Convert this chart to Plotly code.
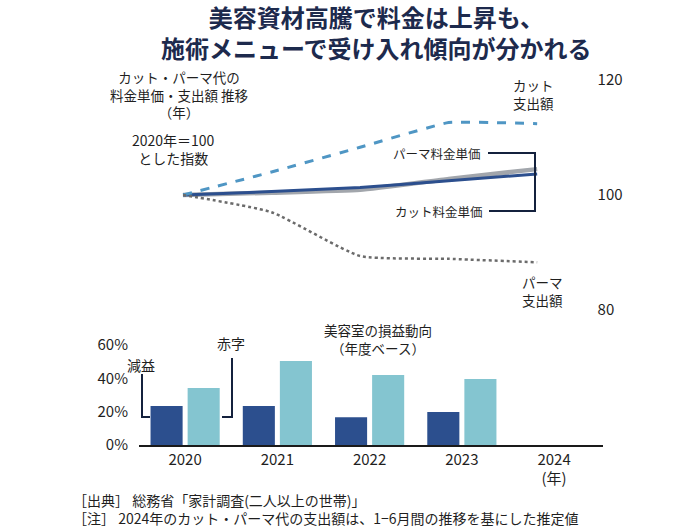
import plotly.graph_objects as go

# ---------------- data ----------------
years = [2020, 2021, 2022, 2023, 2024]
cut_spend = [100, 104.0, 108.3, 112.6, 112.4]      # カット支出額 (dashed)
perm_spend = [100, 97.0, 89.4, 88.9, 88.3]         # パーマ支出額 (dotted)
cut_price = [100, 100.6, 101.3, 102.5, 103.65]     # カット料金単価
perm_price = [100, 100.4, 100.9, 102.8, 104.5]     # パーマ料金単価

bar_years = [2020, 2021, 2022, 2023]
decline = [23.4, 23.4, 16.6, 19.8]                 # 減益
deficit = [34.2, 50.4, 42.0, 39.6]                 # 赤字

top_ticks = [80, 100, 120]
bar_ticks = [0, 20, 40, 60]
bar_ticktext = ["0%", "20%", "40%", "60%"]
x_ticktext = ["2020", "2021", "2022", "2023", "2024<br>(年)"]

# ---------------- style ----------------
W, H = 700, 530
FONT = "Noto Sans CJK JP"
TXT = "#1f1f1f"
NAVY = "#2c4f8e"
LIGHT = "#84c5d0"
DASH = "#4f96c4"
GRAY = "#a2a6ac"
DOT = "#6b6b6b"
BRK = "#14213d"


def px(x):
    return x / W


def py(y):
    return 1 - y / H


fig = go.Figure()

# top chart lines
fig.add_trace(go.Scatter(x=years, y=perm_price, mode="lines", xaxis="x", yaxis="y",
                         line=dict(color=GRAY, width=4.5, shape="spline", smoothing=0.4),
                         hoverinfo="skip"))
fig.add_trace(go.Scatter(x=years, y=cut_price, mode="lines", xaxis="x", yaxis="y",
                         line=dict(color=NAVY, width=3, shape="spline", smoothing=0.4),
                         hoverinfo="skip"))
fig.add_trace(go.Scatter(x=years, y=cut_spend, mode="lines", xaxis="x", yaxis="y",
                         line=dict(color=DASH, width=3, dash="dash", shape="spline", smoothing=0.3),
                         hoverinfo="skip"))
fig.add_trace(go.Scatter(x=years, y=perm_spend, mode="lines", xaxis="x", yaxis="y",
                         line=dict(color=DOT, width=2.5, dash="dot", shape="spline", smoothing=0.5),
                         hoverinfo="skip"))

# bars
fig.add_trace(go.Bar(x=bar_years, y=decline, xaxis="x2", yaxis="y2",
                     marker=dict(color=NAVY, line=dict(width=0)), hoverinfo="skip"))
fig.add_trace(go.Bar(x=bar_years, y=deficit, xaxis="x2", yaxis="y2",
                     marker=dict(color=LIGHT, line=dict(width=0)), hoverinfo="skip"))

# ---------------- axes ----------------
fig.update_layout(
    width=W, height=H,
    margin=dict(l=0, r=0, t=0, b=0, autoexpand=False),
    paper_bgcolor="white", plot_bgcolor="white",
    showlegend=False,
    font=dict(family=FONT, color=TXT, size=14),
    barmode="group", bargap=0.196, bargroupgap=0.135,
    xaxis=dict(domain=[px(165.3), px(595.6)], range=[2019.8, 2024.66],
               showgrid=False, zeroline=False, showline=False, showticklabels=False,
               anchor="y", automargin=False),
    yaxis=dict(domain=[py(321.5), py(68.5)], range=[78, 122], side="right",
               anchor="x", tickvals=top_ticks, showgrid=False, zeroline=False,
               showline=False, ticks="", ticklabelstandoff=1, automargin=False,
               tickfont=dict(size=15, color=TXT)),
    xaxis2=dict(domain=[px(139), px(603)], range=[2019.5, 2024.53], anchor="y2",
                tickvals=years, ticktext=x_ticktext, showgrid=False, zeroline=False,
                showline=True, linecolor="#1a1a1a", linewidth=1.5, ticks="",
                automargin=False, tickfont=dict(size=15, color=TXT)),
    yaxis2=dict(domain=[py(445), py(341.7)], range=[0, 62], anchor="x2",
                tickvals=bar_ticks, ticktext=bar_ticktext, showgrid=False,
                zeroline=False, showline=False, ticks="", ticklabelstandoff=10,
                automargin=False, tickfont=dict(size=15, color=TXT)),
)

# ---------------- text ----------------
def note(text, x, y, size=13.5, xanchor="center", color=TXT, bold=False):
    fig.add_annotation(text=text, x=px(x), y=py(y), xref="paper", yref="paper",
                       xanchor=xanchor, yanchor="middle", showarrow=False,
                       align="center" if xanchor == "center" else xanchor,
                       borderpad=0,
                       font=dict(size=size, color=color, family=FONT,
                                 weight="bold" if bold else "normal"))


note("美容資材高騰で料金は上昇も、<br>施術メニューで受け入れ傾向が分かれる", 376, 32,
     size=24, color="#1d2a4d", bold=True)

note("カット・パーマ代の<br>料金単価・支出額 推移<br>（年）", 179, 95)
note("2020年＝100<br>とした指数", 173, 149, size=14)

note("カット<br>支出額", 533, 94)
note("パーマ<br>支出額", 542, 290.5)

note("パーマ料金単価", 482, 153, size=12.5, xanchor="right")
note("カット料金単価", 484, 211, size=12.5, xanchor="right")

note("美容室の損益動向<br>（年度ベース）", 378, 339)
note("減益", 141, 365, size=14)
note("赤字", 231, 343, size=14)

note("［出典］ 総務省「家計調査(二人以上の世帯)」<br>"
     "［注］ 2024年のカット・パーマ代の支出額は、1−6月間の推移を基にした推定値",
     72, 508.5, size=14, xanchor="left")

# ---------------- callout brackets ----------------
def path(points):
    d = "M " + " L ".join(f"{px(x)},{py(y)}" for x, y in points)
    fig.add_shape(type="path", path=d, xref="paper", yref="paper",
                  line=dict(color=BRK, width=2))


path([(488, 153), (535, 153), (535, 211), (489, 211)])
path([(142, 374), (142, 417), (150, 417)])
path([(232, 358), (232, 417), (222, 417)])

fig.write_html("out.html", config={"displayModeBar": False},
               post_script="document.body.style.margin='0px';")
